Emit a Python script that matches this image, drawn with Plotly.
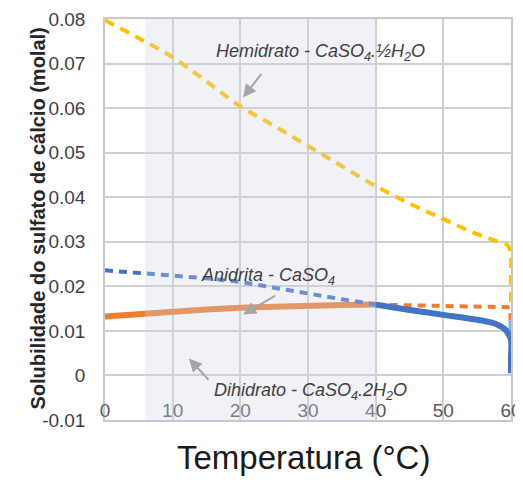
import plotly.graph_objects as go

# ---- data ----
hemi_x = [0, 5, 10, 15, 20, 25, 30, 35, 40, 45, 50, 55, 58, 59.5, 60, 60, 60]
hemi_y = [0.0797, 0.0757, 0.0714, 0.0660, 0.0604, 0.0560, 0.0515, 0.0470, 0.0425,
          0.0386, 0.0351, 0.0317, 0.0301, 0.0292, 0.0272, 0.0240, 0.0150]

anid_dash_x = [0, 5, 10, 15, 20, 25, 30, 35, 40]
anid_dash_y = [0.0236, 0.0231, 0.0224, 0.0218, 0.0210, 0.0197, 0.0183, 0.0171, 0.0159]

anid_solid_x = [40, 45, 50, 55, 57, 58, 59, 59.5, 60, 60, 60]
anid_solid_y = [0.0159, 0.0147, 0.0136, 0.0125, 0.0119, 0.0114, 0.0105, 0.0096, 0.0080, 0.0040, 0.0005]

dihi_solid_x = [0, 5, 10, 15, 20, 25, 30, 35, 40]
dihi_solid_y = [0.0132, 0.0138, 0.0143, 0.0148, 0.0152, 0.0155, 0.0157, 0.0158, 0.0159]

dihi_dash_x = [40, 45, 50, 55, 60]
dihi_dash_y = [0.0159, 0.0157, 0.0156, 0.0155, 0.0153]

orange_end_x = [60, 60]
orange_end_y = [0.0140, 0.0123]
lightblue_end_x = [60, 60]
lightblue_end_y = [0.0123, 0.0095]

x_ticks = [0, 10, 20, 30, 40, 50, 60]
x_ticktext = ["0", "10", "20", "30", "40", "50", "60"]
y_ticks = [-0.01, 0, 0.01, 0.02, 0.03, 0.04, 0.05, 0.06, 0.07, 0.08]
y_ticktext = ["-0.01", "0", "0.01", "0.02", "0.03", "0.04", "0.05", "0.06", "0.07", "0.08"]

shade_x = [5.9, 40]

ORANGE = "#ED7D31"
BLUE = "#4472C4"
YELLOW = "#FFC000"
LIGHTBLUE = "#7FB2E5"
FONT = "Liberation Sans"

fig = go.Figure()

fig.add_trace(go.Scatter(x=dihi_solid_x, y=dihi_solid_y, mode="lines",
                         line=dict(color=ORANGE, width=6), showlegend=False))
fig.add_trace(go.Scatter(x=dihi_dash_x, y=dihi_dash_y, mode="lines",
                         line=dict(color=ORANGE, width=4, dash="8px,6px"), showlegend=False))
fig.add_trace(go.Scatter(x=orange_end_x, y=orange_end_y, mode="lines",
                         line=dict(color=ORANGE, width=5), showlegend=False))
fig.add_trace(go.Scatter(x=lightblue_end_x, y=lightblue_end_y, mode="lines",
                         line=dict(color=LIGHTBLUE, width=5), showlegend=False))
fig.add_trace(go.Scatter(x=anid_dash_x, y=anid_dash_y, mode="lines",
                         line=dict(color=BLUE, width=4, dash="8px,6px"), showlegend=False))
fig.add_trace(go.Scatter(x=anid_solid_x, y=anid_solid_y, mode="lines", line_shape="spline",
                         line=dict(color=BLUE, width=6), showlegend=False))
fig.add_trace(go.Scatter(x=hemi_x, y=hemi_y, mode="lines", line_shape="spline",
                         line=dict(color=YELLOW, width=4, dash="10px,7px"), showlegend=False))

# shaded region
fig.add_shape(type="rect", xref="x", yref="y", x0=shade_x[0], x1=shade_x[1],
              y0=-0.01, y1=0.08, fillcolor="rgb(205,212,230)", opacity=0.3,
              line=dict(width=0), layer="above")

ann_font = dict(family=FONT, size=18, color="#404040")
arrow_col = "#A6A6A6"

annotations = [
    dict(x=31.9, y=0.0725, xref="x", yref="y", text="<i>Hemidrato - CaSO<sub>4</sub>.½H<sub>2</sub>O</i>",
         showarrow=False, font=ann_font),
    dict(x=24.1, y=0.0222, xref="x", yref="y", text="<i>Anidrita - CaSO<sub>4</sub></i>",
         showarrow=False, font=ann_font),
    dict(x=30.3, y=-0.0036, xref="x", yref="y", text="<i>Dihidrato - CaSO<sub>4</sub>.2H<sub>2</sub>O</i>",
         showarrow=False, font=ann_font),
    # arrows
    dict(x=20.4, y=0.0624, ax=23.3, ay=0.0680, xref="x", yref="y", axref="x", ayref="y",
         text="", showarrow=True, arrowhead=2, arrowsize=1.3, arrowwidth=2, arrowcolor=arrow_col),
    dict(x=20.4, y=0.0137, ax=25.4, ay=0.0181, xref="x", yref="y", axref="x", ayref="y",
         text="", showarrow=True, arrowhead=2, arrowsize=1.3, arrowwidth=2, arrowcolor=arrow_col),
    dict(x=12.4, y=0.0038, ax=15.5, ay=-0.0013, xref="x", yref="y", axref="x", ayref="y",
         text="", showarrow=True, arrowhead=2, arrowsize=1.3, arrowwidth=2, arrowcolor=arrow_col),
    # axis titles
    dict(x=-0.197, y=0.5025, xref="paper", yref="paper", text="<b>Solubilidade do sulfato de cálcio (molal)</b>",
         textangle=-90, showarrow=False, font=dict(family=FONT, size=20, color="#262626")),
    dict(x=0.49, y=-0.1446, xref="paper", yref="paper", text="Temperatura (°C)",
         showarrow=False, font=dict(family=FONT, size=33, color="#1a1a1a")),
]

# page body has an 8px margin, so the figure is 8px smaller and margins shifted
fig.update_layout(
    width=515, height=489,
    margin=dict(l=97, r=12, t=11, b=77),
    paper_bgcolor="white", plot_bgcolor="white",
    annotations=annotations,
    showlegend=False,
)
fig.update_xaxes(range=[0, 60], tickvals=x_ticks, ticktext=x_ticktext, automargin=False,
                 ticklabelposition="inside", ticklabeloverflow="allow",
                 tickfont=dict(family=FONT, size=19, color="#595959"),
                 showgrid=True, gridcolor="#D0D0D0", gridwidth=1.5,
                 showline=True, linecolor="#C8C8C8", linewidth=1.5, mirror=True,
                 zeroline=False, ticks="")
fig.update_yaxes(range=[-0.01, 0.08], tickvals=y_ticks, ticktext=y_ticktext, automargin=False,
                 tickfont=dict(family=FONT, size=19, color="#404040"), ticklabelstandoff=14,
                 showgrid=True, gridcolor="#D0D0D0", gridwidth=1.5,
                 showline=True, linecolor="#C8C8C8", linewidth=1.5, mirror=True,
                 zeroline=False, ticks="")

fig.write_html("out.html")
